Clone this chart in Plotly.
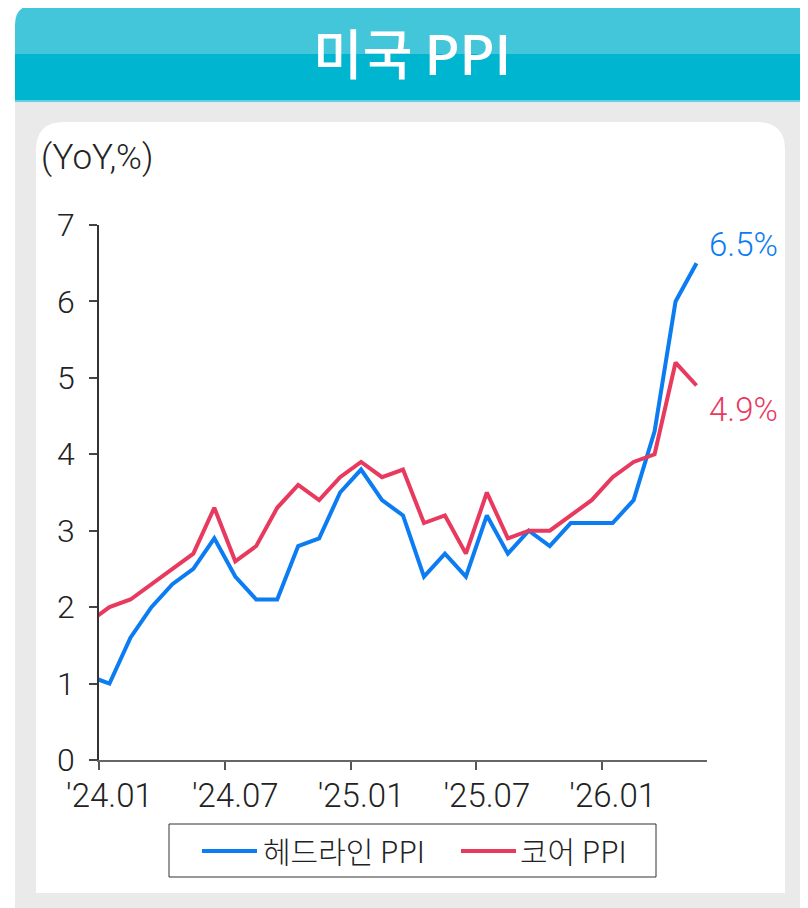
import plotly.graph_objects as go

# ---------------- data ----------------
months = ["'23.12",
          "'24.01", "'24.02", "'24.03", "'24.04", "'24.05", "'24.06",
          "'24.07", "'24.08", "'24.09", "'24.10", "'24.11", "'24.12",
          "'25.01", "'25.02", "'25.03", "'25.04", "'25.05", "'25.06",
          "'25.07", "'25.08", "'25.09", "'25.10", "'25.11", "'25.12",
          "'26.01", "'26.02", "'26.03", "'26.04", "'26.05"]
headline_ppi = [1.1,
                1.0, 1.6, 2.0, 2.3, 2.5, 2.9,
                2.4, 2.1, 2.1, 2.8, 2.9, 3.5,
                3.8, 3.4, 3.2, 2.4, 2.7, 2.4,
                3.2, 2.7, 3.0, 2.8, 3.1, 3.1,
                3.1, 3.4, 4.3, 6.0, 6.5]
core_ppi = [1.8,
            2.0, 2.1, 2.3, 2.5, 2.7, 3.3,
            2.6, 2.8, 3.3, 3.6, 3.4, 3.7,
            3.9, 3.7, 3.8, 3.1, 3.2, 2.7,
            3.5, 2.9, 3.0, 3.0, 3.2, 3.4,
            3.7, 3.9, 4.0, 5.2, 4.9]
tick_labels = ["'24.01", "'24.07", "'25.01", "'25.07", "'26.01"]
series_names = ["헤드라인 PPI", "코어 PPI"]
title_text = "미국 PPI"
unit_text = "(YoY,%)"

BLUE = "#0B7CF1"
RED = "#E8395F"
FONT = "Roboto, 'Noto Sans CJK KR', sans-serif"
KFONT = "'Noto Sans CJK KR', Roboto, sans-serif"

xs = list(range(len(months)))
first_shown = months.index(tick_labels[0])
label_pos = [months.index(t) for t in tick_labels]
bound_pos = [p - 0.5 for p in label_pos]
xrange = [first_shown - 0.5, len(months) - 0.5]

# ---------------- geometry helpers (page pixel coords -> paper) ----------------
OFF = 8                      # page body margin
WIDTH, HEIGHT = 800, 900
PLOT_X0, PLOT_X1, PLOT_Y0, PLOT_Y1 = 99, 707, 225, 760   # page coords of plot area
L = PLOT_X0 - OFF
R = OFF + WIDTH - PLOT_X1
T = PLOT_Y0 - OFF
B = OFF + HEIGHT - PLOT_Y1
PW, PH = WIDTH - L - R, HEIGHT - T - B


def px(x):
    return (x - PLOT_X0) / PW


def py(y):
    return (PLOT_Y1 - y) / PH


def rounded_top(x0, y0, x1, y1, r):
    return (f"M {px(x0)},{py(y1)} L {px(x0)},{py(y0 + r)} "
            f"Q {px(x0)},{py(y0)} {px(x0 + r)},{py(y0)} "
            f"L {px(x1 - r)},{py(y0)} Q {px(x1)},{py(y0)} {px(x1)},{py(y0 + r)} "
            f"L {px(x1)},{py(y1)} Z")


def rect(x0, y0, x1, y1, fill, line=None, lw=0, layer="below"):
    d = dict(type="rect", xref="paper", yref="paper",
             x0=px(x0), x1=px(x1), y0=py(y1), y1=py(y0),
             fillcolor=fill, layer=layer, line=dict(width=lw))
    if line:
        d["line"] = dict(width=lw, color=line)
    return d


shapes = [
    dict(type="path", xref="paper", yref="paper", path=rounded_top(15, 5, 808, 54, 20),
         fillcolor="#43C6DA", line=dict(width=0), layer="below"),
    rect(15, 54, 808, 100, "#00B5D0"),
    rect(15, 100, 808, 102, "#62D0E2"),
    rect(15, 102, 808, 910, "#EAEAEA"),
    dict(type="path", xref="paper", yref="paper", path=rounded_top(36, 122, 785, 893, 28),
         fillcolor="#FFFFFF", line=dict(width=0), layer="below"),
    # legend box and samples
    rect(169, 824, 656, 877, "rgba(0,0,0,0)", line="#333333", lw=1, layer="above"),
    dict(type="line", xref="paper", yref="paper", x0=px(202), x1=px(257), y0=py(851), y1=py(851),
         line=dict(color=BLUE, width=4)),
    dict(type="line", xref="paper", yref="paper", x0=px(461), x1=px(516), y0=py(851), y1=py(851),
         line=dict(color=RED, width=4)),
]

annotations = [
    dict(text=title_text, xref="paper", yref="paper", x=px(412), y=py(52),
         xanchor="center", yanchor="middle", showarrow=False,
         font=dict(family=KFONT, size=54, color="white", weight=500)),
    dict(text=unit_text, xref="paper", yref="paper", x=px(39), y=py(157),
         xanchor="left", yanchor="middle", showarrow=False,
         font=dict(family=FONT, size=35, color="#222222", weight=300)),
    dict(text=series_names[0], xref="paper", yref="paper", x=px(261), y=py(850),
         xanchor="left", yanchor="middle", showarrow=False,
         font=dict(family=KFONT, size=30, color="#222222", weight=300)),
    dict(text=series_names[1], xref="paper", yref="paper", x=px(518), y=py(850),
         xanchor="left", yanchor="middle", showarrow=False,
         font=dict(family=KFONT, size=30, color="#222222", weight=300)),
    dict(text=f"{headline_ppi[-1]}%", x=xs[-1], y=headline_ppi[-1], xref="x", yref="y",
         xanchor="left", yanchor="middle", xshift=10, yshift=19, showarrow=False,
         font=dict(family=FONT, size=33, color=BLUE, weight=300)),
    dict(text=f"{core_ppi[-1]}%", x=xs[-1], y=core_ppi[-1], xref="x", yref="y",
         xanchor="left", yanchor="middle", xshift=10, yshift=-24, showarrow=False,
         font=dict(family=FONT, size=33, color=RED, weight=300)),
]

fig = go.Figure()
fig.add_trace(go.Scatter(x=xs, y=headline_ppi, mode="lines", name=series_names[0],
                         line=dict(color=BLUE, width=4), xaxis="x", yaxis="y"))
fig.add_trace(go.Scatter(x=xs, y=core_ppi, mode="lines", name=series_names[1],
                         line=dict(color=RED, width=4), xaxis="x2", yaxis="y"))

fig.update_layout(
    width=WIDTH, height=HEIGHT,
    margin=dict(l=L, r=R, t=T, b=B, pad=0),
    paper_bgcolor="white", plot_bgcolor="rgba(0,0,0,0)",
    showlegend=False,
    shapes=shapes, annotations=annotations,
    xaxis=dict(range=xrange, tickmode="array", tickvals=bound_pos, ticktext=[""] * len(bound_pos),
               ticks="outside", ticklen=8, tickwidth=1.5, tickcolor="#555555",
               showline=True, linecolor="#666666", linewidth=1.5,
               showgrid=False, zeroline=False, fixedrange=True),
    xaxis2=dict(range=xrange, overlaying="x", side="bottom", anchor="y",
                tickmode="array", tickvals=label_pos, ticktext=tick_labels,
                ticks="", showline=False, showgrid=False, zeroline=False,
                ticklabelstandoff=13,
                tickfont=dict(family=FONT, size=33, color="#222222", weight=300)),
    yaxis=dict(range=[0, 7], dtick=1, tick0=0,
               ticks="outside", ticklen=8, tickwidth=1.5, tickcolor="#444444",
               showline=True, linecolor="#333333", linewidth=1.5,
               showgrid=False, zeroline=False, ticklabelstandoff=8,
               tickfont=dict(family=FONT, size=32, color="#222222", weight=300)),
)

fig.write_html("out.html")
